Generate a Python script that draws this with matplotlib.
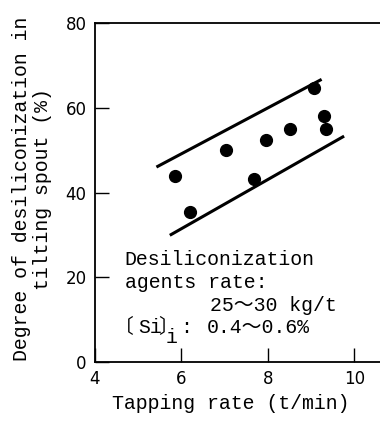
import matplotlib.pyplot as plt

### data
rate = [5.86, 6.19, 7.04, 7.67, 7.96, 8.50, 9.06, 9.29, 9.33]      # tapping rate (t/min)
desi = [43.9, 35.5, 50.0, 43.1, 52.4, 55.1, 64.6, 58.1, 55.1]      # desiliconization (%)

upper_x = [5.42, 9.24]
upper_y = [46.0, 66.7]
lower_x = [5.73, 9.76]
lower_y = [29.9, 53.3]

xticks = [4, 6, 8, 10]
yticks = [0, 20, 40, 60, 80]

mono = ['Liberation Mono', 'Noto Sans CJK JP', 'DejaVu Sans']
fs = 14.3

### figure
fig = plt.figure(figsize=(3.8, 4.21), dpi=100)
ax = fig.add_axes([95/380, 1 - 362/421, (380 - 95)/380, (362 - 23)/421])

ax.plot(rate, desi, 'ko', markersize=8.5)
ax.plot(upper_x, upper_y, 'k-', linewidth=2.2, solid_capstyle='butt')
ax.plot(lower_x, lower_y, 'k-', linewidth=2.2, solid_capstyle='butt')

ax.set_xlim(4, 10.59)
ax.set_ylim(0, 80)
ax.set_xticks(xticks)
ax.set_yticks(yticks)
ax.tick_params(direction='in', length=10, width=1, labelsize=12, pad=6)
ax.spines['right'].set_visible(False)
for s in ['top', 'left', 'bottom']:
    ax.spines[s].set_linewidth(1.3)

ax.set_xlabel('Tapping rate (t/min)', family=mono, fontsize=fs)
ax.xaxis.set_label_coords(0.477, -0.094)
ax.set_ylabel('Degree of desiliconization in\ntilting spout (%)', family=mono,
              fontsize=fs, linespacing=1.15)
ax.yaxis.set_label_coords(-0.150, 0.51)

### annotation
kw = dict(family=mono, fontsize=fs, va='baseline', ha='left')
ax.text(4.69, 22.9, 'Desiliconization', **kw)
ax.text(4.69, 17.5, 'agents rate:', **kw)
ax.text(6.66, 12.0, '25～30 kg/t', **kw)
ax.text(4.44, 6.8, '〔', **kw)
ax.text(4.99, 6.8, 'Si', **kw)
ax.text(5.46, 6.8, '〕', **kw)
ax.text(5.64, 4.4, 'i', **kw)
ax.text(5.965, 6.8, ':', **kw)
ax.text(6.59, 6.8, '0.4～0.6%', **kw)

fig.savefig('out.png', dpi=100)
